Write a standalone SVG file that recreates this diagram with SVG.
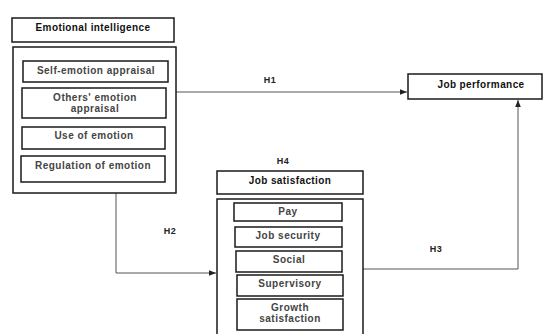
<svg xmlns="http://www.w3.org/2000/svg" width="544" height="334" viewBox="0 0 544 334">
<style>
.box{fill:#fff;stroke:#1a1a1a;stroke-width:1.5}
.t{font-family:"Liberation Sans",Arial,sans-serif;font-size:10px;font-weight:bold;text-anchor:middle;fill:#111;letter-spacing:0.4px}
.s{font-family:"Liberation Sans",Arial,sans-serif;font-size:10px;font-weight:bold;text-anchor:middle;fill:#444;letter-spacing:0.5px}
.h{font-family:"Liberation Sans",Arial,sans-serif;font-size:9px;font-weight:bold;text-anchor:middle;fill:#222;letter-spacing:0.5px}
.c{fill:none;stroke:#555;stroke-width:1}
</style>
<defs>
<marker id="ah" viewBox="0 0 10 10" refX="10" refY="5" markerWidth="7" markerHeight="7" markerUnits="userSpaceOnUse" orient="auto">
<path d="M0,1 L10,5 L0,9 Z" fill="#222"/>
</marker>
</defs>
<rect width="544" height="334" fill="#fff"/>
<g id="connectors">
<path class="c" d="M176,92 H407" marker-end="url(#ah)"/>
<path class="c" d="M116,193 V273 H216" marker-end="url(#ah)"/>
<path class="c" d="M363,269 H518 V100" marker-end="url(#ah)"/>
<text class="h" x="270" y="82.5">H1</text>
<text class="h" x="170" y="234">H2</text>
<text class="h" x="436" y="251.5">H3</text>
<text class="h" x="283" y="163.5">H4</text>
</g>
<g id="emotional-intelligence">
<rect class="box" x="12" y="18" width="162" height="24"/>
<text class="t" x="93" y="31">Emotional intelligence</text>
<rect class="box" x="13" y="47" width="163" height="146"/>
</g>
<g id="self-emotion-appraisal">
<rect class="box" x="23" y="61" width="145" height="21"/>
<text class="s" x="96" y="73.5">Self-emotion appraisal</text>
</g>
<g id="others-emotion-appraisal">
<rect class="box" x="22" y="88" width="144" height="30"/>
<text class="s" x="95" y="101">Others' emotion</text>
<text class="s" x="95" y="112">appraisal</text>
</g>
<g id="use-of-emotion">
<rect class="box" x="22" y="127" width="143" height="22"/>
<text class="s" x="94" y="139">Use of emotion</text>
</g>
<g id="regulation-of-emotion">
<rect class="box" x="21" y="156" width="144" height="26"/>
<text class="s" x="93" y="168.5">Regulation of emotion</text>
</g>
<g id="job-performance">
<rect class="box" x="408" y="74" width="134" height="25"/>
<text class="t" x="481" y="87.5">Job performance</text>
</g>
<g id="job-satisfaction">
<rect class="box" x="217" y="171" width="146" height="23"/>
<text class="t" x="290" y="184">Job satisfaction</text>
<rect class="box" x="217" y="199" width="146" height="145"/>
</g>
<g id="pay">
<rect class="box" x="234" y="203" width="108" height="18"/>
<text class="s" x="288" y="215">Pay</text>
</g>
<g id="job-security">
<rect class="box" x="235" y="227" width="107" height="20"/>
<text class="s" x="288" y="239">Job security</text>
</g>
<g id="social">
<rect class="box" x="236" y="251" width="106" height="21"/>
<text class="s" x="289" y="263">Social</text>
</g>
<g id="supervisory">
<rect class="box" x="237" y="275" width="106" height="21"/>
<text class="s" x="290" y="287">Supervisory</text>
</g>
<g id="growth-satisfaction">
<rect class="box" x="237" y="299" width="106" height="31"/>
<text class="s" x="290" y="310.5">Growth</text>
<text class="s" x="290" y="321.5">satisfaction</text>
</g>
</svg>
